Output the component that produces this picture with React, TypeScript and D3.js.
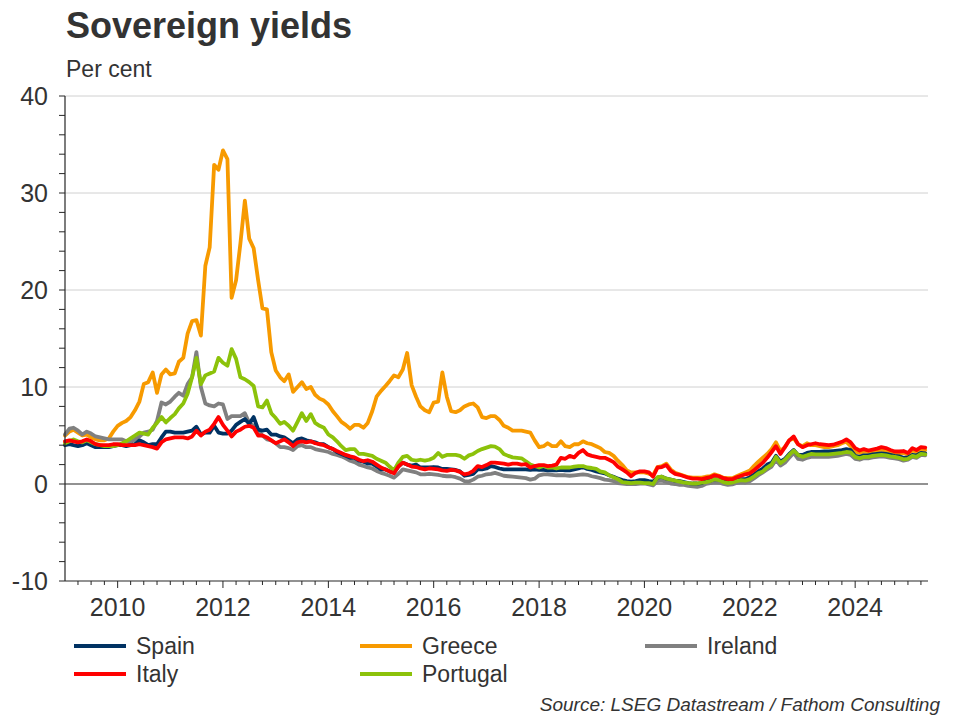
import * as d3 from 'd3';

// Monthly 10-year government bond yields, Jan 2009 - May 2025 (per cent)
const spain = [
  4.0, 4.1, 4.0, 3.9, 4.0, 4.2, 4.0, 3.8, 3.8, 3.8, 3.8, 3.9,
  4.0, 4.0, 3.9, 4.0, 4.1, 4.5, 4.3, 4.0, 4.1, 4.1, 4.8, 5.4,
  5.4, 5.3, 5.3, 5.3, 5.4, 5.5, 5.9, 5.1, 5.3, 5.3, 6.0, 5.3,
  5.2, 5.2, 5.5, 6.1, 6.4, 6.7, 6.2, 6.9, 5.6, 5.5, 5.6, 5.1,
  5.1, 4.9, 4.8, 4.5, 4.2, 4.6, 4.7, 4.5, 4.4, 4.3, 4.1, 4.1,
  3.8, 3.6, 3.3, 3.1, 2.9, 2.7, 2.7, 2.4, 2.3, 2.1, 2.1, 1.8,
  1.5, 1.5, 1.3, 1.2, 1.8, 2.2, 2.0, 1.9, 2.0, 1.7, 1.7, 1.7,
  1.75, 1.7, 1.55, 1.55, 1.5, 1.45, 1.3, 0.85, 0.95, 1.05, 1.5, 1.5,
  1.6, 1.85, 1.75, 1.6, 1.5, 1.5, 1.5, 1.5, 1.5, 1.5, 1.45, 1.5,
  1.45, 1.45, 1.4, 1.4, 1.4, 1.45, 1.4, 1.4, 1.5, 1.6, 1.75, 1.55,
  1.45, 1.3, 1.2, 1.1, 0.9, 0.75, 0.55, 0.4, 0.3, 0.25, 0.3, 0.4,
  0.4, 0.3, 0.25, 0.65, 0.75, 0.55, 0.45, 0.35, 0.3, 0.2, 0.1, 0.05,
  0.05, 0.1, 0.3, 0.35, 0.5, 0.45, 0.3, 0.25, 0.3, 0.45, 0.5, 0.5,
  0.7, 1.0, 1.3, 1.6, 2.0, 2.2, 2.9, 2.3, 2.6, 3.1, 3.5, 3.0,
  3.0, 3.2, 3.3, 3.3, 3.3, 3.35, 3.35, 3.4, 3.45, 3.5, 3.6, 3.5,
  2.9, 2.8, 2.95, 2.95, 3.05, 3.1, 3.15, 3.1, 3.0, 2.9, 2.85, 2.7,
  2.75, 3.0, 2.95, 3.2, 3.15,
];

const greece = [
  5.0, 5.4, 5.6, 5.3, 5.0, 5.1, 4.8, 4.6, 4.5, 4.5, 4.7, 5.4,
  6.0, 6.3, 6.5, 6.9, 7.6, 8.5, 10.3, 10.5, 11.5, 9.4, 11.3, 11.8,
  11.3, 11.4, 12.6, 13.0, 15.5, 16.8, 16.9, 15.3, 22.5, 24.4, 32.9, 32.4,
  34.4, 33.5, 19.2, 21.0, 24.8, 29.2, 25.3, 24.3, 21.0, 18.1, 18.0, 13.6,
  11.7, 11.0, 10.6, 11.3, 9.5, 10.0, 10.5, 9.8, 10.0, 9.2, 8.8, 8.6,
  8.2, 7.5, 7.0, 6.4, 6.1, 5.7, 6.1, 6.1, 5.8, 6.3, 7.5, 9.0,
  9.6, 10.1, 10.6, 11.2, 11.0, 11.8, 13.5, 10.2, 9.0, 8.0, 7.6, 7.4,
  8.4, 8.5, 11.5, 9.0, 7.5, 7.4, 7.6, 8.0, 8.2, 8.3, 7.9, 6.9,
  6.8, 7.0, 7.0, 6.6, 6.0, 5.8, 5.5, 5.5, 5.5, 5.4, 5.3, 4.5,
  3.8, 3.9, 4.2, 3.9, 3.9, 4.4, 3.9, 3.8, 4.1, 4.1, 4.4, 4.2,
  4.1, 3.9, 3.7, 3.3, 3.2, 2.9, 2.4, 1.95, 1.4, 1.2, 1.2, 1.2,
  1.2, 1.05, 0.9, 1.75, 1.85, 2.1, 1.5, 1.15, 1.0, 0.85, 0.7, 0.65,
  0.65, 0.65, 0.75, 0.8, 1.0, 0.85, 0.65, 0.6, 0.6, 0.8, 1.0, 1.2,
  1.4, 1.9, 2.3, 2.7, 3.1, 3.6, 4.3, 3.4, 3.8, 4.5, 4.7, 4.1,
  3.9, 4.2, 4.0, 4.0, 3.9, 3.8, 3.8, 3.9, 4.0, 4.2, 4.35, 3.9,
  3.3, 3.2, 3.35, 3.3, 3.4, 3.45, 3.55, 3.45, 3.3, 3.15, 3.15, 3.2,
  3.05, 3.45, 3.3, 3.55, 3.5,
];

const ireland = [
  5.1, 5.7, 5.8, 5.5, 5.1, 5.4, 5.2, 4.9, 4.8, 4.7, 4.6, 4.6,
  4.6, 4.6, 4.4, 4.3, 4.6, 4.9, 5.3, 5.4, 5.6, 6.5, 8.4, 8.2,
  8.5, 9.0, 9.4, 9.1, 10.3, 11.0, 13.6, 10.0, 8.3, 8.1, 8.0, 8.3,
  8.2, 6.7, 7.0, 7.0, 7.0, 7.3, 6.3, 6.0, 5.5, 5.0, 4.6, 4.5,
  4.2, 3.8, 3.8, 3.7, 3.5, 3.9, 4.0, 3.8, 3.8, 3.6, 3.5, 3.4,
  3.3, 3.1, 3.0, 2.85, 2.65, 2.4, 2.25, 2.0, 1.85, 1.7, 1.6, 1.35,
  1.15, 1.0, 0.85, 0.65, 1.05, 1.5, 1.4, 1.3, 1.2, 1.0, 1.0, 1.05,
  1.0, 0.95, 0.85, 0.8, 0.8, 0.7, 0.55, 0.3, 0.25, 0.45, 0.75, 0.85,
  1.0, 1.05, 1.15, 1.0, 0.85, 0.8, 0.75, 0.7, 0.65, 0.6, 0.45, 0.55,
  0.9, 1.0, 1.0, 0.95, 0.9, 0.9, 0.9, 0.85, 0.9, 0.95, 1.0, 0.95,
  0.8, 0.7, 0.6, 0.45, 0.4, 0.3, 0.1, 0.05, 0.0, 0.0, 0.0, 0.05,
  0.05, -0.05, -0.15, 0.3, 0.35, 0.2, 0.05, 0.0, -0.1, -0.1, -0.2, -0.25,
  -0.3, -0.2, 0.0, 0.1, 0.2, 0.15, 0.0, -0.1, -0.05, 0.1, 0.2, 0.15,
  0.3, 0.6, 0.9, 1.2, 1.5, 1.8, 2.5, 1.9, 2.2, 2.7, 3.2, 2.6,
  2.5, 2.7, 2.8, 2.8, 2.8, 2.8, 2.8, 2.85, 2.9, 3.0, 3.1, 3.0,
  2.6, 2.5, 2.65, 2.65, 2.75, 2.8, 2.85, 2.8, 2.7, 2.65, 2.55, 2.4,
  2.5, 2.8, 2.7, 3.0, 2.95,
];

const italy = [
  4.4, 4.5, 4.4, 4.3, 4.4, 4.6, 4.4, 4.1, 4.0, 4.0, 4.0, 4.1,
  4.1, 4.0, 4.0, 4.0, 4.0, 4.1, 4.0, 3.9, 3.8, 3.65, 4.3, 4.6,
  4.7, 4.8, 4.8, 4.8, 4.7, 4.9, 5.5, 5.0, 5.4, 5.6, 6.2, 6.9,
  6.1, 5.5, 4.9, 5.4, 5.6, 5.9, 6.0, 5.8, 5.0, 5.0, 4.8, 4.5,
  4.2, 4.4, 4.6, 4.3, 3.9, 4.3, 4.4, 4.3, 4.4, 4.2, 4.1, 4.0,
  3.8, 3.6, 3.4, 3.2, 3.0, 2.85, 2.75, 2.5, 2.35, 2.45, 2.3, 2.0,
  1.7, 1.5, 1.3, 1.1, 1.8, 2.2, 2.0, 1.8, 1.75, 1.6, 1.5, 1.6,
  1.55, 1.5, 1.4, 1.35, 1.45, 1.4, 1.25, 1.0, 1.1, 1.35, 1.85, 1.75,
  1.95, 2.2, 2.2, 2.15, 2.1, 2.0, 2.1, 2.1, 2.0, 2.05, 1.7, 1.85,
  1.95, 1.95, 1.85, 1.9, 2.0, 2.7, 2.6, 2.9, 2.75, 3.2, 3.5, 3.05,
  2.9, 2.8, 2.7, 2.7, 2.5, 2.25, 1.8, 1.5, 1.2, 0.8, 1.15, 1.3,
  1.3, 1.2, 0.75, 1.7, 1.75, 1.95, 1.35, 1.05, 0.95, 0.8, 0.65, 0.55,
  0.55, 0.5, 0.6, 0.7, 0.9, 0.8, 0.6, 0.5, 0.5, 0.7, 0.85, 1.0,
  1.1, 1.45, 1.8, 2.2, 2.7, 3.3, 3.9, 3.1, 3.8, 4.5, 4.9, 4.1,
  3.8, 4.0, 4.1, 4.2, 4.1, 4.05, 4.0, 4.05, 4.2, 4.35, 4.6, 4.3,
  3.7, 3.45, 3.6, 3.45, 3.55, 3.65, 3.8, 3.7, 3.5, 3.35, 3.35, 3.4,
  3.2, 3.7, 3.5, 3.8, 3.75,
];

const portugal = [
  4.2, 4.4, 4.6, 4.4, 4.3, 4.5, 4.3, 4.1, 4.0, 3.9, 3.9, 3.9,
  4.0, 4.2, 4.4, 4.7, 5.0, 5.3, 5.2, 5.1, 5.8, 6.3, 6.9, 6.35,
  6.8, 7.2, 7.8, 8.3, 9.3, 11.0, 13.0, 10.3, 11.2, 11.4, 11.6, 13.0,
  12.5, 12.2, 13.9, 12.9, 11.0, 10.8, 10.5, 10.1, 8.0, 7.9, 8.6, 7.3,
  6.8, 6.2, 6.4, 6.0, 5.5, 6.4, 7.3, 6.5, 7.2, 6.3, 6.0, 5.8,
  5.1, 4.8, 4.4, 3.9, 3.5, 3.6, 3.6, 3.1, 3.1, 3.0, 2.9, 2.6,
  2.4, 2.2, 1.8, 1.4, 2.2, 2.8, 2.9, 2.5, 2.4, 2.5, 2.4, 2.5,
  2.7, 3.2, 2.8, 3.0, 3.0, 3.0, 2.9, 2.6, 2.95, 3.1, 3.4, 3.6,
  3.75, 3.9, 3.85, 3.6, 3.1, 2.9, 2.75, 2.7, 2.65, 2.35, 2.0, 1.85,
  1.7, 1.85, 1.7, 1.7, 1.6, 1.7, 1.7, 1.7, 1.8, 1.85, 1.85, 1.7,
  1.65, 1.55, 1.3, 1.2, 0.9, 0.7, 0.5, 0.2, 0.15, 0.1, 0.15, 0.15,
  0.1, 0.1, 0.0, 0.7, 0.75, 0.55, 0.45, 0.35, 0.25, 0.15, 0.1, 0.05,
  0.05, 0.15, 0.2, 0.3, 0.5, 0.4, 0.2, 0.1, 0.15, 0.3, 0.4, 0.35,
  0.5, 0.8, 1.1, 1.3, 1.7, 2.0, 2.8, 2.15, 2.5, 3.0, 3.45, 3.0,
  2.8, 2.95, 3.1, 3.05, 3.05, 3.05, 3.05, 3.1, 3.15, 3.2, 3.3, 3.25,
  2.8, 2.65, 2.8, 2.8, 2.9, 2.95, 3.0, 2.95, 2.85, 2.8, 2.7, 2.55,
  2.6, 2.9, 2.8, 3.1, 3.05,
];

const yTickLabels = [-10, 0, 10, 20, 30, 40];
const yGridLines = [10, 20, 30, 40];
const xLabelYears = [2010, 2012, 2014, 2016, 2018, 2020, 2022, 2024];

// drawing order: Italy ends up on top
const series = [
  { name: 'Greece', values: greece, color: '#f79a00' },
  { name: 'Ireland', values: ireland, color: '#808080' },
  { name: 'Spain', values: spain, color: '#003263' },
  { name: 'Portugal', values: portugal, color: '#8cc20a' },
  { name: 'Italy', values: italy, color: '#ff0000' },
];

// legend layout: [name, column, row]
const legendItems: [string, number, number][] = [
  ['Spain', 0, 0],
  ['Greece', 1, 0],
  ['Ireland', 2, 0],
  ['Italy', 0, 1],
  ['Portugal', 1, 1],
];

const FONT = '"Liberation Sans", Arial, Helvetica, sans-serif';
const TEXT = '#333333';

export default function App() {
  const width = 960;
  const height = 720;
  const left = 65;
  const right = 928;

  const dates = spain.map((_, i) => new Date(2009, i, 1));

  const x = d3
    .scaleTime()
    .domain([new Date(2009, 0, 1), new Date(2025, 4, 20)])
    .range([left, right]);
  const y = d3.scaleLinear().domain([-10, 40]).range([581, 96]);

  const line = d3
    .line<number>()
    .x((d, i) => x(dates[i]))
    .y((d) => y(d));

  const quarterTicks = d3.timeMonth
    .every(3)!
    .range(new Date(2009, 3, 1), new Date(2025, 4, 20));
  const minorY = d3.range(-10, 41, 2);

  const colorOf = (n: string) => series.find((s) => s.name === n)!.color;
  const legendX = [74, 360, 645];
  const legendY = [646, 674];

  return (
    <div style={{ position: 'absolute', left: 0, top: 0 }}>
      <svg width={width} height={height} style={{ display: 'block', background: '#fff' }}>
        <text x={66} y={38} fontFamily={FONT} fontSize={36} fontWeight="bold" fill={TEXT}>
          Sovereign yields
        </text>
        <text x={66} y={77} fontFamily={FONT} fontSize={23} fill={TEXT}>
          Per cent
        </text>

        {yGridLines.map((v) => (
          <line key={v} x1={left} x2={right} y1={y(v)} y2={y(v)} stroke="#d0d0d0" strokeWidth={1} />
        ))}
        <line x1={left} x2={right} y1={y(0)} y2={y(0)} stroke="#262626" strokeWidth={1.2} />

        {series.map((s) => (
          <path
            key={s.name}
            d={line(s.values) || ''}
            fill="none"
            stroke={s.color}
            strokeWidth={3.8}
            strokeLinejoin="round"
            strokeLinecap="round"
          />
        ))}

        {/* y axis */}
        <line x1={left} x2={left} y1={y(40)} y2={y(-10)} stroke="#262626" strokeWidth={1.2} />
        {minorY.map((v) => (
          <line key={v} x1={left - 6} x2={left} y1={y(v)} y2={y(v)} stroke="#262626" strokeWidth={1} />
        ))}
        {yTickLabels.map((v) => (
          <text
            key={v}
            x={48}
            y={y(v)}
            dy="0.36em"
            textAnchor="end"
            fontFamily={FONT}
            fontSize={25}
            fill={TEXT}
          >
            {v}
          </text>
        ))}

        {/* x axis */}
        <line x1={left} x2={right} y1={y(-10)} y2={y(-10)} stroke="#262626" strokeWidth={1.2} />
        {quarterTicks.map((d) => {
          const major = d.getMonth() === 0 && d.getFullYear() % 2 === 0;
          return (
            <line
              key={d.getTime()}
              x1={x(d)}
              x2={x(d)}
              y1={y(-10)}
              y2={y(-10) + (major ? 7 : 4)}
              stroke="#262626"
              strokeWidth={1}
            />
          );
        })}
        {xLabelYears.map((yr) => (
          <text
            key={yr}
            x={x(new Date(yr, 0, 1))}
            y={616}
            textAnchor="middle"
            fontFamily={FONT}
            fontSize={25}
            fill={TEXT}
          >
            {yr}
          </text>
        ))}

        {/* legend */}
        {legendItems.map(([name, col, row]) => (
          <g key={name} transform={`translate(${legendX[col]},${legendY[row]})`}>
            <line x1={0} x2={52} y1={0} y2={0} stroke={colorOf(name)} strokeWidth={4} />
            <text x={62} y={0} dy="0.36em" fontFamily={FONT} fontSize={23} fill={TEXT}>
              {name}
            </text>
          </g>
        ))}

        <text
          x={940}
          y={711}
          textAnchor="end"
          fontFamily={FONT}
          fontSize={19}
          fontStyle="italic"
          fill={TEXT}
        >
          Source: LSEG Datastream / Fathom Consulting
        </text>
      </svg>
    </div>
  );
}
